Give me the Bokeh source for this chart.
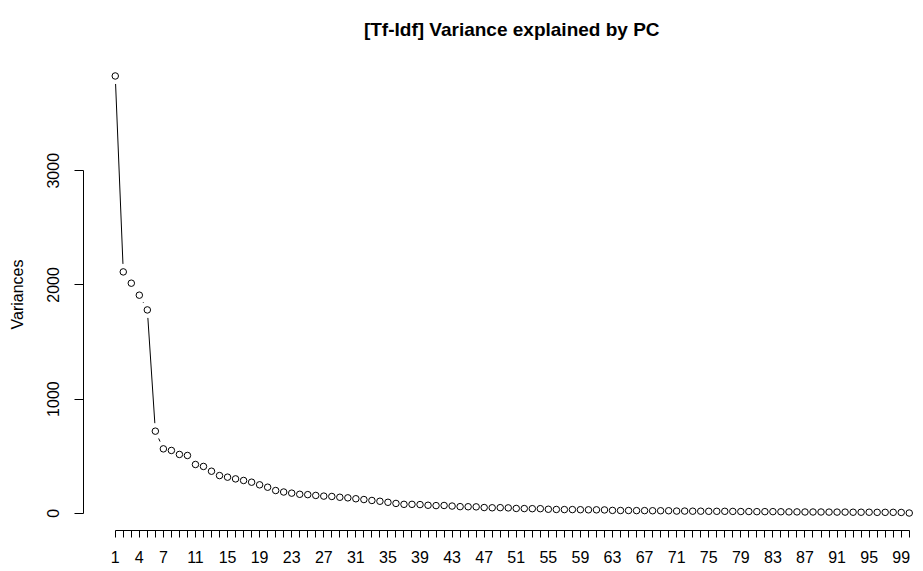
import math
from bokeh.plotting import figure
from bokeh.models import FixedTicker, Range1d, Title
from bokeh.embed import file_html
from bokeh.resources import INLINE

# ---- data -------------------------------------------------------------
pcs = list(range(1, 101))
variances = [
    3830, 2114, 2015, 1910, 1781, 719, 564, 550, 515, 506,
    427, 410, 368, 330, 316, 301, 287, 272, 249, 228,
    199, 186, 176, 166, 163, 156, 150, 147, 140, 135,
    127, 120, 112, 105, 96, 86, 78, 78, 76, 70,
    67, 68, 63, 58, 57, 56, 50, 48, 49, 47,
    42, 41, 40, 40, 35, 33, 32, 32, 31, 30,
    30, 29, 25, 24, 24, 23, 23, 22, 22, 22,
    19, 19, 18, 18, 17, 17, 17, 16, 15, 15,
    14, 14, 14, 13, 12, 12, 11, 11, 11, 10,
    10, 10, 9, 9, 9, 8, 8, 8, 7, 2,
]
x_labels_shown = [1, 4, 7, 11, 15, 19, 23, 27, 31, 35, 39, 43, 47, 51, 55,
                  59, 63, 67, 71, 75, 79, 83, 87, 91, 95, 99]
y_ticks = [0, 1000, 2000, 3000]
title_text = "[Tf-Idf] Variance explained by PC"
y_label = "Variances"

# ---- layout -----------------------------------------------------------
W, H = 923, 571
BL, BR, BT, BB = 83, 0, 58, 41
FW = W - BL - BR
FH = H - BT - BB
FONT = "Liberation Sans"
TITLE_PX = 19
TITLE_EM = 15.615          # advance width of the title in em (Arial bold metrics)

xmin, xmax = min(pcs), max(pcs)
x0 = xmin - 0.04 * (xmax - xmin)
x_full_end = xmax + 0.04 * (xmax - xmin)
x1 = x0 + FW / 8.02
ymin, ymax = min(variances), max(variances)
y0 = ymin - 0.04 * (ymax - ymin)
y1 = ymax + 0.04 * (ymax - ymin)

sx = FW / (x1 - x0)
sy = FH / (y1 - y0)

# title centred over the full R plot region
title_center_px = ((x0 + x_full_end) / 2 - x0) * sx
title_offset = title_center_px - TITLE_EM * TITLE_PX / 2

p = figure(width=W, height=H, output_backend="svg", toolbar_location=None,
           x_range=Range1d(x0, x1), y_range=Range1d(y0, y1),
           min_border_left=BL, min_border_right=BR,
           min_border_top=BT, min_border_bottom=BB,
           title=Title(text=title_text, align="left", offset=title_offset,
                       vertical_align="top", standoff=33,
                       text_font=FONT, text_font_size=f"{TITLE_PX}px",
                       text_font_style="bold", text_color="black"))
p.outline_line_color = None
p.xgrid.visible = False
p.ygrid.visible = False
p.background_fill_color = "white"
p.border_fill_color = "white"

# ---- lines with gaps around points (R type="b") -----------------------
gap = 8.0
xs0, ys0, xs1, ys1 = [], [], [], []
for i in range(len(pcs) - 1):
    dx = pcs[i + 1] - pcs[i]
    dy = variances[i + 1] - variances[i]
    d = math.hypot(dx * sx, dy * sy)
    if d > 2 * gap:
        f = gap / d
        xs0.append(pcs[i] + dx * f)
        ys0.append(variances[i] + dy * f)
        xs1.append(pcs[i + 1] - dx * f)
        ys1.append(variances[i + 1] - dy * f)
p.segment(xs0, ys0, xs1, ys1, line_color="black", line_width=1)

p.scatter(pcs, variances, marker="circle", size=6.5, fill_color=None,
          line_color="black", line_width=1)

# ---- axes ---------------------------------------------------------------
xa = p.below[0]
xa.ticker = FixedTicker(ticks=pcs, minor_ticks=[])
xa.major_label_overrides = {v: (str(v) if v in x_labels_shown else "") for v in pcs}
xa.bounds = (xmin, xmax)
xa.major_tick_in = 0
xa.major_tick_out = 7
xa.minor_tick_line_color = None
xa.major_label_standoff = 13
xa.major_label_text_font = FONT
xa.major_label_text_font_size = "16px"
xa.major_label_text_color = "black"
xa.axis_line_color = "black"
xa.major_tick_line_color = "black"

ya = p.yaxis[0]
ya.ticker = FixedTicker(ticks=y_ticks, minor_ticks=[])
ya.bounds = (y_ticks[0], y_ticks[-1])
ya.major_tick_in = 0
ya.major_tick_out = 9
ya.minor_tick_line_color = None
ya.major_label_orientation = "vertical"
ya.major_label_standoff = 15
ya.major_label_text_font = FONT
ya.major_label_text_font_size = "16px"
ya.major_label_text_color = "black"
ya.axis_line_color = "black"
ya.major_tick_line_color = "black"
ya.axis_label = y_label
ya.axis_label_text_font = FONT
ya.axis_label_text_font_size = "16px"
ya.axis_label_text_font_style = "normal"
ya.axis_label_text_color = "black"
ya.axis_label_standoff = 19

open("out.html", "w").write(file_html(p, INLINE))
